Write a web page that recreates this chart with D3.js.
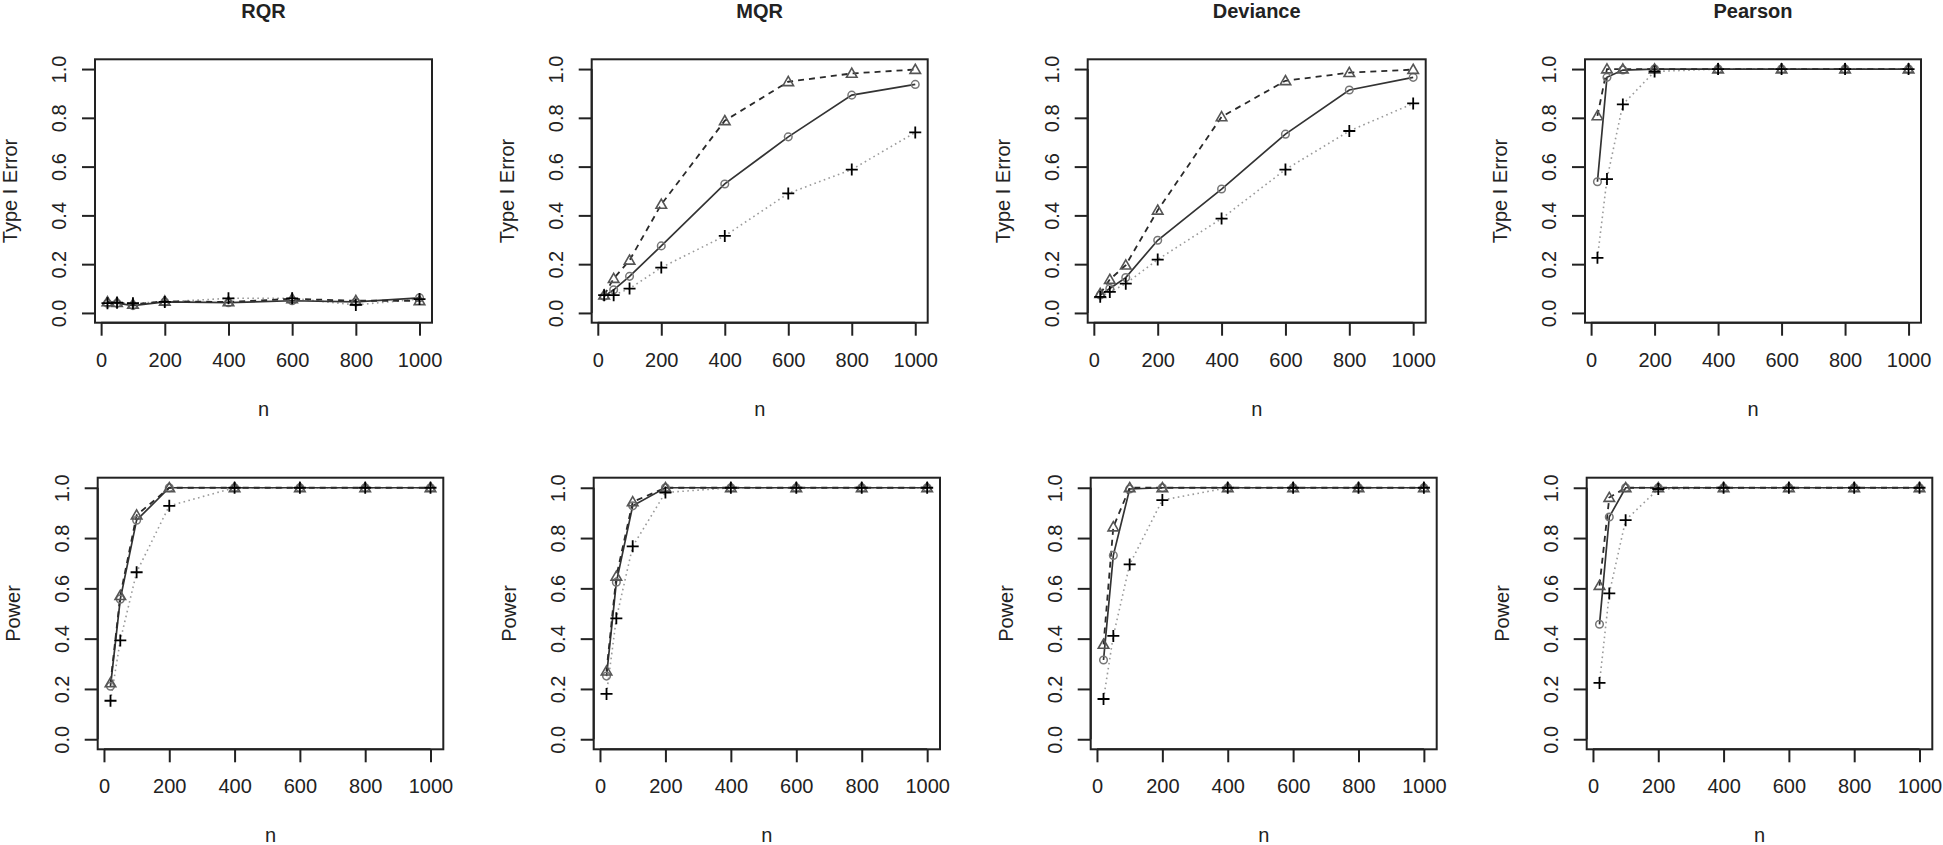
<!DOCTYPE html>
<html>
<head>
<meta charset="utf-8">
<script src="https://cdn.jsdelivr.net/npm/d3@7"></script>
<style>
  html, body { margin: 0; padding: 0; background: #ffffff; }
  svg { display: block; }
  text { font-family: Arial, "Liberation Sans", sans-serif; fill: #222; }
</style>
</head>
<body>
<svg id="chart" width="1943" height="845"></svg>
<script>
// ---------------- data ----------------
const nValues = [20, 50, 100, 200, 400, 600, 800, 1000];
const methods = ["RQR", "MQR", "Deviance", "Pearson"];
const xTicks = [0, 200, 400, 600, 800, 1000];
const yTicks = [0, 0.2, 0.4, 0.6, 0.8, 1.0];
const rowLabels = ["Type I Error", "Power"];

// Type I error (row 1): circle/solid, triangle/dashed, plus/dotted
const rqrT1Circle = [0.040, 0.040, 0.030, 0.045, 0.042, 0.050, 0.045, 0.062];
const rqrT1Tri    = [0.045, 0.042, 0.035, 0.048, 0.045, 0.058, 0.050, 0.050];
const rqrT1Plus   = [0.040, 0.042, 0.040, 0.045, 0.060, 0.060, 0.033, 0.057];

const mqrT1Circle = [0.068, 0.095, 0.150, 0.275, 0.529, 0.722, 0.893, 0.937];
const mqrT1Tri    = [0.073, 0.141, 0.216, 0.445, 0.788, 0.948, 0.982, 0.998];
const mqrT1Plus   = [0.073, 0.073, 0.100, 0.186, 0.316, 0.490, 0.588, 0.740];

const devT1Circle = [0.073, 0.100, 0.145, 0.298, 0.508, 0.733, 0.914, 0.966];
const devT1Tri    = [0.079, 0.137, 0.196, 0.421, 0.804, 0.952, 0.985, 0.998];
const devT1Plus   = [0.066, 0.086, 0.120, 0.219, 0.387, 0.588, 0.746, 0.859];

const peaT1Circle = [0.538, 0.966, 0.996, 1.000, 1.000, 1.000, 1.000, 1.000];
const peaT1Tri    = [0.808, 1.000, 1.000, 1.000, 1.000, 1.000, 1.000, 1.000];
const peaT1Plus   = [0.226, 0.549, 0.855, 0.990, 1.000, 1.000, 1.000, 1.000];

// Power (row 2)
const rqrPCircle = [0.211, 0.557, 0.871, 1.000, 1.000, 1.000, 1.000, 1.000];
const rqrPTri    = [0.224, 0.571, 0.891, 1.000, 1.000, 1.000, 1.000, 1.000];
const rqrPPlus   = [0.153, 0.393, 0.664, 0.928, 1.000, 1.000, 1.000, 1.000];

const mqrPCircle = [0.251, 0.624, 0.928, 1.000, 1.000, 1.000, 1.000, 1.000];
const mqrPTri    = [0.271, 0.648, 0.944, 1.000, 1.000, 1.000, 1.000, 1.000];
const mqrPPlus   = [0.180, 0.481, 0.767, 0.981, 1.000, 1.000, 1.000, 1.000];

const devPCircle = [0.315, 0.731, 0.995, 1.000, 1.000, 1.000, 1.000, 1.000];
const devPTri    = [0.377, 0.844, 1.000, 1.000, 1.000, 1.000, 1.000, 1.000];
const devPPlus   = [0.160, 0.411, 0.695, 0.951, 1.000, 1.000, 1.000, 1.000];

const peaPCircle = [0.457, 0.884, 1.000, 1.000, 1.000, 1.000, 1.000, 1.000];
const peaPTri    = [0.611, 0.961, 1.000, 1.000, 1.000, 1.000, 1.000, 1.000];
const peaPPlus   = [0.224, 0.580, 0.871, 0.995, 1.000, 1.000, 1.000, 1.000];

const panelData = [
  [ {c: rqrT1Circle, t: rqrT1Tri, p: rqrT1Plus},
    {c: mqrT1Circle, t: mqrT1Tri, p: mqrT1Plus},
    {c: devT1Circle, t: devT1Tri, p: devT1Plus},
    {c: peaT1Circle, t: peaT1Tri, p: peaT1Plus} ],
  [ {c: rqrPCircle, t: rqrPTri, p: rqrPPlus},
    {c: mqrPCircle, t: mqrPTri, p: mqrPPlus},
    {c: devPCircle, t: devPTri, p: devPPlus},
    {c: peaPCircle, t: peaPTri, p: peaPPlus} ]
];

// ---------------- layout ----------------
const rows = [
  { top: 59.3, bottom: 322.7, boxes: [[95, 432], [591.7, 927.7], [1087.7, 1425.7], [1585, 1921]] },
  { top: 477.7, bottom: 749.3, boxes: [[97.7, 443.3], [593.7, 940], [1090.7, 1436.7], [1586.7, 1932.3]] }
];

const svg = d3.select("#chart");
svg.append("rect").attr("width", 1943).attr("height", 845).attr("fill", "#fff");

const xExt = [20 - 0.04 * 980, 1000 + 0.04 * 980];
const yExt = [-0.04, 1.04];

rows.forEach((row, ri) => {
  row.boxes.forEach((bx, ci) => {
    const [L, R] = bx;
    const x = d3.scaleLinear().domain(xExt).range([L, R]);
    const y = d3.scaleLinear().domain(yExt).range([row.bottom, row.top]);
    const g = svg.append("g");

    // lines & points
    const d = panelData[ri][ci];
    const pts = arr => nValues.map((n, i) => [n, arr[i]]);
    const line = d3.line().x(p => x(p[0])).y(p => y(p[1]));

    // dotted line (plus)
    g.append("path").attr("d", line(pts(d.p)))
      .attr("fill", "none").attr("stroke", "#9a9a9a").attr("stroke-width", 1.6)
      .attr("stroke-dasharray", "1.6,3.4");
    // solid line (circle)
    g.append("path").attr("d", line(pts(d.c)))
      .attr("fill", "none").attr("stroke", "#333").attr("stroke-width", 1.7);
    // dashed line (triangle)
    g.append("path").attr("d", line(pts(d.t)))
      .attr("fill", "none").attr("stroke", "#2a2a2a").attr("stroke-width", 1.8)
      .attr("stroke-dasharray", "6,5");

    // circles
    g.selectAll(null).data(pts(d.c)).enter().append("circle")
      .attr("cx", p => x(p[0])).attr("cy", p => y(p[1])).attr("r", 3.8)
      .attr("fill", "none").attr("stroke", "#777").attr("stroke-width", 1.5);
    // triangles
    const tri = d3.symbol().type(d3.symbolTriangle).size(48);
    g.selectAll(null).data(pts(d.t)).enter().append("path")
      .attr("d", tri())
      .attr("transform", p => `translate(${x(p[0])},${y(p[1]) + 0.8})`)
      .attr("fill", "none").attr("stroke", "#555").attr("stroke-width", 1.6);
    // plus
    g.selectAll(null).data(pts(d.p)).enter().append("path")
      .attr("d", "M-6,0H6M0,-6V6")
      .attr("transform", p => `translate(${x(p[0])},${y(p[1])})`)
      .attr("fill", "none").attr("stroke", "#000").attr("stroke-width", 1.8);

    // box
    g.append("rect").attr("x", L).attr("y", row.top)
      .attr("width", R - L).attr("height", row.bottom - row.top)
      .attr("fill", "none").attr("stroke", "#222").attr("stroke-width", 2);

    // x axis
    const xa = g.append("g").attr("transform", `translate(0,${row.bottom})`)
      .call(d3.axisBottom(x).tickValues(xTicks).tickSize(13).tickPadding(8).tickFormat(d3.format("d")));
    xa.select(".domain").attr("d", `M${x(0)},0H${x(1000)}`).attr("stroke", "#222").attr("stroke-width", 2);
    xa.selectAll(".tick line").attr("stroke", "#222").attr("stroke-width", 2);
    xa.selectAll(".tick text").attr("font-size", 20).attr("fill", "#222")
      .attr("font-family", "Arial, 'Liberation Sans', sans-serif")
      .attr("dy", null).attr("y", 44);

    // y axis
    const ya = g.append("g").attr("transform", `translate(${L},0)`)
      .call(d3.axisLeft(y).tickValues(yTicks).tickSize(13).tickFormat(d3.format(".1f")));
    ya.select(".domain").attr("d", `M0,${y(0)}V${y(1)}`).attr("stroke", "#222").attr("stroke-width", 2);
    ya.selectAll(".tick line").attr("stroke", "#222").attr("stroke-width", 2);
    ya.selectAll(".tick text").attr("font-size", 20).attr("fill", "#222")
      .attr("font-family", "Arial, 'Liberation Sans', sans-serif")
      .attr("x", null).attr("dy", null)
      .attr("text-anchor", "middle")
      .attr("transform", "translate(-29,0) rotate(-90)");

    // axis titles
    g.append("text").attr("x", (L + R) / 2).attr("y", row.bottom + 93)
      .attr("text-anchor", "middle").attr("font-size", 20).text("n");
    g.append("text")
      .attr("transform", `translate(${L - 78},${(row.top + row.bottom) / 2}) rotate(-90)`)
      .attr("text-anchor", "middle").attr("font-size", 20).text(rowLabels[ri]);

    if (ri === 0) {
      g.append("text").attr("x", (L + R) / 2).attr("y", 18)
        .attr("text-anchor", "middle").attr("font-size", 20).attr("font-weight", "bold")
        .text(methods[ci]);
    }
  });
});
</script>
</body>
</html>
